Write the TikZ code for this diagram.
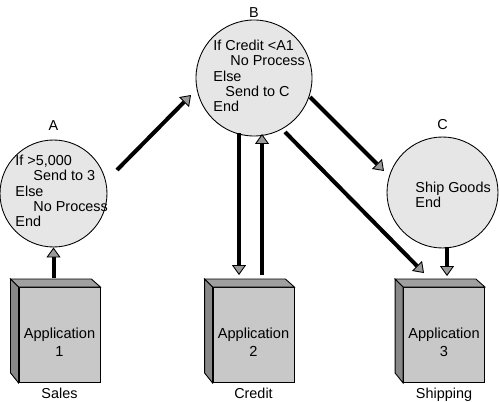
\documentclass[tikz,border=0pt]{standalone}
\usepackage{fontspec}
\setmainfont{Liberation Sans}
\usetikzlibrary{arrows.meta,calc,positioning}

\definecolor{bubble}{HTML}{E6E6E6}
\definecolor{boxfront}{HTML}{C8C8C8}
\definecolor{boxtop}{HTML}{A0A0A0}
\definecolor{boxside}{HTML}{888888}
\definecolor{tipfill}{HTML}{9A9A9A}

\begin{document}
\begin{tikzpicture}[x=0.2mm, y=-0.2mm, line width=0.5pt,
    every node/.style={font=\fontsize{8.2}{8.7}\selectfont},
    rule/.style={circle, draw, fill=bubble, inner sep=0pt},
    ruletext/.style={align=left, inner sep=0pt, anchor=west},
    app/.style={draw, fill=boxfront, minimum width=16.2mm, minimum height=19mm, inner sep=0pt},
    apptext/.style={align=center, inner sep=0pt, font=\fontsize{8.3}{10.2}\selectfont},
    flow/.style={line width=0.8mm, -{Triangle[width=2.8mm,length=2mm,fill=tipfill,line width=0.5pt]}}]
      \useasboundingbox (0,0) rectangle (500,402);

      \node[rule, minimum size=21.4mm] (A) at (53.5,193.5) {};
      \node[rule, minimum size=23.2mm] (B) at (254,78) {};
      \node[rule, minimum size=22.2mm] (C) at (442.5,192.5) {};

      \node[above=1.8mm of A, inner sep=0pt] (labA) {A};
      \node[above=0.4mm of B, inner sep=0pt] (labB) {B};
      \node[above=1.3mm of C, inner sep=0pt] (labC) {C};

      \node[ruletext] (textA) at ($(A.center)+(-38.5,-2.5)$)
        {If >5,000\\\hspace*{3.6mm}Send to 3\\Else\\\hspace*{3.6mm}No Process\\End};
      \node[ruletext] (textB) at ($(B.center)+(-41,-2)$)
        {If Credit <A1\\\hspace*{3.4mm}No Process\\Else\\\hspace*{2.4mm}Send to C\\End};
      \node[ruletext] (textC) at ($(C.center)+(-27.5,2.5)$) {Ship Goods\\End};

      \node[app] (app1) at (59.5,335) {};
      \node[app] (app2) at (253.5,335) {};
      \node[app] (app3) at (444,335) {};

      \foreach \i in {1,2,3} {
        \filldraw[fill=boxtop] (app\i.north west) -- ++(-8,-8)
          -- ($(app\i.north east)+(-9,-8)$) -- (app\i.north east) -- cycle;
        \filldraw[fill=boxside] (app\i.north west) -- ++(-8,-8)
          -- ($(app\i.south west)+(-8,-10)$) -- (app\i.south west) -- cycle;
      }

      \node[apptext] (name1) at ($(app1.center)+(0,7)$) {Application\\1};
      \node[apptext] (name2) at ($(app2.center)+(0,7)$) {Application\\2};
      \node[apptext] (name3) at ($(app3.center)+(0,7)$) {Application\\3};

      \node[below=1mm of app1, inner sep=0pt] (sales) {Sales};
      \node[below=1mm of app2, inner sep=0pt] (credit) {Credit};
      \node[below=1mm of app3, inner sep=0pt] (shipping) {Shipping};

      \draw[flow] ($(A.south |- app1.north)+(0,-9)$) -- (A.south);
      \draw[flow] ($(A.center)+(63.5,-23.5)$) -- ($(B.center)+(-63,17)$);
      \draw[flow] ($(B.center)+(-15,55)$) -- ($(B.center |- app2.north)+(-15,-12)$);
      \draw[flow] ($(B.center |- app2.north)+(8,-12)$) -- ($(B.center)+(8,56)$);
      \draw[flow] ($(B.center)+(56,19)$) -- ($(C.center)+(-58.5,-21.5)$);
      \draw[flow] ($(B.center)+(31,54)$) -- ($(app3.north)+(-20,-14)$);
      \draw[flow] ($(C.center)+(4.5,55)$) -- ($(C.center |- app3.north)+(4.5,-11)$);
    \end{tikzpicture}
\end{document}
